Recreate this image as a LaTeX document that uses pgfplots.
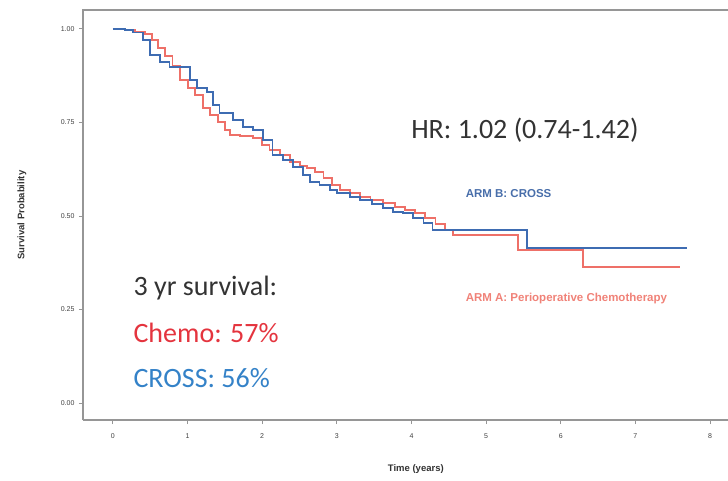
\documentclass[border=0pt]{standalone}
\usepackage{pgfplots}
\pgfplotsset{compat=1.18}
\usepackage{fontspec}
\setmainfont{Liberation Sans}
\newfontfamily\calibri{Carlito}
\definecolor{chemoline}{RGB}{238,112,104}
\definecolor{crossline}{RGB}{62,108,178}
\definecolor{chemotext}{RGB}{228,52,62}
\definecolor{crosstext}{RGB}{52,130,200}
\definecolor{armb}{RGB}{72,110,170}
\definecolor{arma}{RGB}{240,130,120}
\definecolor{axgray}{RGB}{150,150,150}
\begin{document}
\begin{tikzpicture}
\begin{axis}[
  scale only axis,
  width=645pt, height=410pt,
  xmin=-0.40, xmax=8.24,
  ymin=-0.045, ymax=1.05,
  axis line style={draw=none},
  xtick={0,1,2,3,4,5,6,7,8},
  ytick={0,0.25,0.5,0.75,1},
  yticklabels={0.00,0.25,0.50,0.75,1.00},
  tick style={axgray, line width=0.8pt},
  tick align=outside,
  major tick length=4pt,
  xtick pos=bottom, ytick pos=left,
  /pgf/number format/assume math mode=true,
  tick label style={font=\fontsize{7}{8}\selectfont, text=black!75},
  xticklabel style={yshift=-6pt},
  yticklabel style={xshift=-1pt},
  xlabel={Time (years)},
  xlabel style={font=\fontsize{9.5}{11}\selectfont\bfseries, text=black!80, at={(axis description cs:0.516,0)}, anchor=center, yshift=-49pt},
  clip=false,
]
\draw[axgray, line width=1.6pt] (rel axis cs:0,0) -- (rel axis cs:0,1) -- (rel axis cs:1.05,1);
\draw[axgray, line width=1.2pt] (rel axis cs:0,0) -- (rel axis cs:1.05,0);
% Arm A: Perioperative chemotherapy
\addplot[const plot, chemoline, line width=1.7pt] coordinates {
(0.00,1.000) (0.16,0.997) (0.30,0.992) (0.43,0.986) (0.52,0.970) (0.60,0.948)
(0.70,0.927) (0.80,0.900) (0.90,0.863) (1.01,0.841) (1.10,0.823) (1.21,0.788)
(1.30,0.769) (1.41,0.751) (1.50,0.729) (1.57,0.716) (1.70,0.713) (1.88,0.708)
(2.00,0.689) (2.10,0.676) (2.24,0.662) (2.37,0.644) (2.51,0.633) (2.60,0.628)
(2.71,0.617) (2.82,0.601) (2.94,0.582) (3.04,0.569) (3.18,0.561) (3.31,0.550)
(3.45,0.542) (3.62,0.534) (3.78,0.523) (3.91,0.515) (4.05,0.507) (4.18,0.494)
(4.32,0.478) (4.45,0.462) (4.56,0.449) (5.43,0.409) (6.30,0.363) (7.60,0.363)
};
% Arm B: CROSS
\addplot[const plot, crossline, line width=1.7pt] coordinates {
(0.00,1.000) (0.16,0.997) (0.27,0.990) (0.40,0.970) (0.50,0.930) (0.63,0.911)
(0.76,0.898) (1.03,0.863) (1.13,0.841) (1.26,0.831) (1.34,0.796) (1.43,0.775)
(1.61,0.756) (1.74,0.737) (1.88,0.729) (2.01,0.703) (2.14,0.663) (2.28,0.649)
(2.41,0.630) (2.55,0.609) (2.64,0.590) (2.77,0.582) (2.91,0.569) (3.00,0.561)
(3.18,0.550) (3.31,0.542) (3.47,0.531) (3.62,0.521) (3.75,0.510) (3.89,0.507)
(4.02,0.494) (4.16,0.481) (4.28,0.462) (5.55,0.414) (7.69,0.414)
};
\node[rotate=90, anchor=center, font=\fontsize{9.5}{11}\selectfont\bfseries, text=black!80] at ([xshift=-61pt]rel axis cs:0,0.5) {Survival Probability};
\node[anchor=west, font=\fontsize{11.5}{13}\selectfont\bfseries, text=armb] at (axis cs:4.68,0.560) {ARM B: CROSS};
\node[anchor=west, font=\fontsize{11.5}{13}\selectfont\bfseries, text=arma] at (axis cs:4.68,0.280) {ARM A: Perioperative Chemotherapy};
\node[anchor=center, font=\calibri\fontsize{28}{32}\selectfont, text=black!80] at (axis cs:5.52,0.729) {HR: 1.02 (0.74-1.42)};
\node[anchor=west, font=\calibri\fontsize{28}{32}\selectfont, text=black!80] at (axis cs:0.23,0.307) {3 yr survival:};
\node[anchor=west, font=\calibri\fontsize{28}{32}\selectfont, text=chemotext] at (axis cs:0.23,0.187) {Chemo: 57\%};
\node[anchor=west, font=\calibri\fontsize{28}{32}\selectfont, text=crosstext] at (axis cs:0.23,0.067) {CROSS: 56\%};
\end{axis}
\pgfresetboundingbox
\path[use as bounding box] (-83pt,-60pt) rectangle (645pt,420pt);
\end{tikzpicture}
\end{document}
